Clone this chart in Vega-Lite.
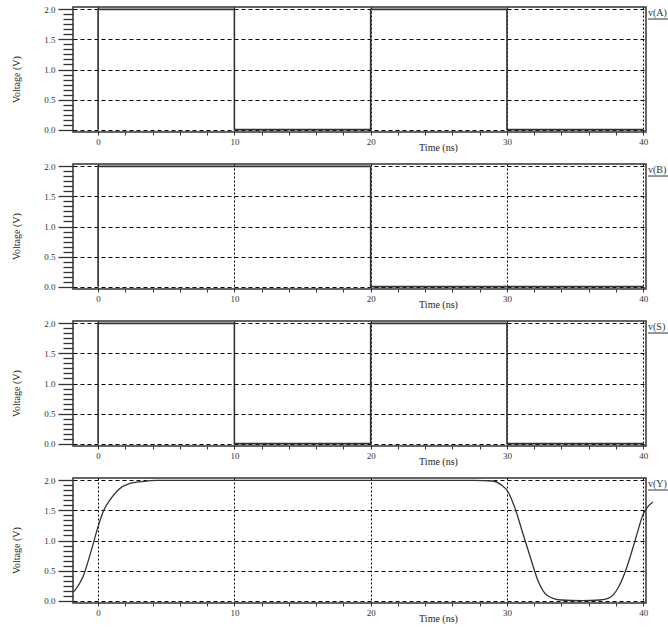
{
  "$schema": "https://vega.github.io/schema/vega-lite/v6.json",
  "background": "white",
  "padding": {"left": 10, "top": 4, "right": 0, "bottom": 0},
  "datasets": {
    "digital": [
      {"signal": "A", "i": 1, "t": 0, "v": 0},
      {"signal": "A", "i": 2, "t": 0, "v": 2},
      {"signal": "A", "i": 3, "t": 10, "v": 2},
      {"signal": "A", "i": 4, "t": 10, "v": 0},
      {"signal": "A", "i": 5, "t": 20, "v": 0},
      {"signal": "A", "i": 6, "t": 20, "v": 2},
      {"signal": "A", "i": 7, "t": 30, "v": 2},
      {"signal": "A", "i": 8, "t": 30, "v": 0},
      {"signal": "A", "i": 9, "t": 40, "v": 0},
      {"signal": "B", "i": 1, "t": 0, "v": 0},
      {"signal": "B", "i": 2, "t": 0, "v": 2},
      {"signal": "B", "i": 3, "t": 20, "v": 2},
      {"signal": "B", "i": 4, "t": 20, "v": 0},
      {"signal": "B", "i": 5, "t": 40, "v": 0},
      {"signal": "S", "i": 1, "t": 0, "v": 0},
      {"signal": "S", "i": 2, "t": 0, "v": 2},
      {"signal": "S", "i": 3, "t": 10, "v": 2},
      {"signal": "S", "i": 4, "t": 10, "v": 0},
      {"signal": "S", "i": 5, "t": 20, "v": 0},
      {"signal": "S", "i": 6, "t": 20, "v": 2},
      {"signal": "S", "i": 7, "t": 30, "v": 2},
      {"signal": "S", "i": 8, "t": 30, "v": 0},
      {"signal": "S", "i": 9, "t": 40, "v": 0}
    ],
    "output": [
      {"i": 1, "t": -1.76, "v": 0.15},
      {"i": 2, "t": -1.1, "v": 0.4},
      {"i": 3, "t": -0.49, "v": 0.84},
      {"i": 4, "t": 0, "v": 1.23},
      {"i": 5, "t": 0.37, "v": 1.48},
      {"i": 6, "t": 0.86, "v": 1.67},
      {"i": 7, "t": 1.47, "v": 1.84},
      {"i": 8, "t": 2.33, "v": 1.95},
      {"i": 9, "t": 3.2, "v": 1.98},
      {"i": 10, "t": 4.3, "v": 2.0},
      {"i": 11, "t": 10, "v": 2.0},
      {"i": 12, "t": 20, "v": 2.0},
      {"i": 13, "t": 27.6, "v": 2.0},
      {"i": 14, "t": 28.95, "v": 1.99},
      {"i": 15, "t": 29.56, "v": 1.93},
      {"i": 16, "t": 30.05, "v": 1.82},
      {"i": 17, "t": 30.54, "v": 1.57},
      {"i": 18, "t": 31.15, "v": 1.13},
      {"i": 19, "t": 31.77, "v": 0.68},
      {"i": 20, "t": 32.26, "v": 0.34},
      {"i": 21, "t": 32.94, "v": 0.09},
      {"i": 22, "t": 33.98, "v": 0.01},
      {"i": 23, "t": 35.5, "v": 0.0},
      {"i": 24, "t": 36.8, "v": 0.01},
      {"i": 25, "t": 37.47, "v": 0.04},
      {"i": 26, "t": 38.2, "v": 0.23},
      {"i": 27, "t": 38.8, "v": 0.56},
      {"i": 28, "t": 39.4, "v": 1.0},
      {"i": 29, "t": 40.0, "v": 1.44},
      {"i": 30, "t": 40.7, "v": 1.64}
    ]
  },
  "config": {
    "view": {"stroke": "#333", "strokeWidth": 1.5},
    "text": {"font": "Liberation Serif", "fontSize": 10, "color": "#333", "align": "left", "baseline": "middle"},
    "rule": {"color": "#333", "strokeWidth": 1}
  },
  "vconcat": [
    {
      "width": 573, "height": 125,
      "layer": [
        {
          "data": {"name": "digital"},
          "transform": [{"filter": "datum.signal === 'A'"}],
          "mark": {"type": "line", "stroke": "#333", "strokeWidth": 1.6},
          "encoding": {
            "x": {"field": "t", "type": "quantitative", "scale": {"domain": [-1.84, 40.2], "nice": false, "zero": false},
              "axis": {"title": "Time (ns)", "tickCount": 50, "values": [0, 2, 4, 6, 8, 10, 12, 14, 16, 18, 20, 22, 24, 26, 28, 30, 32, 34, 36, 38, 40], "labelExpr": "datum.value % 10 === 0 ? datum.label : ''", "format": "d", "tickSize": 3, "tickColor": "#333", "domain": false, "grid": true, "gridColor": "#000", "gridDash": [2, 2], "gridWidth": 1, "gridOpacity": {"condition": {"test": "datum.value % 10 === 0", "value": 1}, "value": 0}, "labelFont": "Liberation Serif", "labelFontSize": 9, "labelColor": "#333", "labelPadding": 2, "labelOverlap": false, "labelFlush": false, "titleFont": "Liberation Serif", "titleFontSize": 10, "titleFontWeight": "normal", "titleColor": "#222", "titleX": 365, "titleY": 10, "titleAlign": "center", "titleBaseline": "top"}},
            "y": {"field": "v", "type": "quantitative", "scale": {"domain": [-0.04, 2.04], "nice": false, "zero": false},
              "axis": {"title": "Voltage (V)", "tickCount": 50, "values": [0, 0.0833, 0.1667, 0.25, 0.3333, 0.4167, 0.5, 0.5833, 0.6667, 0.75, 0.8333, 0.9167, 1, 1.0833, 1.1667, 1.25, 1.3333, 1.4167, 1.5, 1.5833, 1.6667, 1.75, 1.8333, 1.9167, 2], "labelExpr": "abs(datum.value * 2 - round(datum.value * 2)) < 0.01 ? format(datum.value, '.1f') : ''", "tickSize": {"condition": {"test": "abs(datum.value * 2 - round(datum.value * 2)) < 0.01", "value": 15}, "value": 10}, "tickColor": "#333", "tickWidth": 1.3, "domain": false, "grid": true, "gridColor": "#000", "gridDash": [4, 3], "gridWidth": 1, "gridOpacity": {"condition": {"test": "abs(datum.value * 2 - round(datum.value * 2)) < 0.01", "value": 1}, "value": 0}, "labelFont": "Liberation Serif", "labelFontSize": 9, "labelColor": "#333", "labelPadding": 3, "labelOverlap": false, "labelFlush": false, "titleFont": "Liberation Serif", "titleFontSize": 10, "titleFontWeight": "normal", "titleColor": "#222", "titleX": -57, "titleY": 72, "titleAngle": 270, "titleAlign": "center", "titleBaseline": "middle"}},
            "order": {"field": "i"}
          }
        },
        {
          "data": {"values": [{"label": "v(A)"}]},
          "mark": {"type": "text"},
          "encoding": {"x": {"datum": 40.35}, "y": {"datum": 1.94}, "text": {"field": "label"}}
        },
        {
          "data": {"values": [{"label": "v(A)"}]},
          "mark": {"type": "rule"},
          "encoding": {"x": {"datum": 40.35}, "x2": {"datum": 41.9}, "y": {"datum": 1.84}}
        }
      ]
    },
    {
      "width": 573, "height": 125,
      "layer": [
        {
          "data": {"name": "digital"},
          "transform": [{"filter": "datum.signal === 'B'"}],
          "mark": {"type": "line", "stroke": "#333", "strokeWidth": 1.6},
          "encoding": {
            "x": {"field": "t", "type": "quantitative", "scale": {"domain": [-1.84, 40.2], "nice": false, "zero": false},
              "axis": {"title": "Time (ns)", "tickCount": 50, "values": [0, 2, 4, 6, 8, 10, 12, 14, 16, 18, 20, 22, 24, 26, 28, 30, 32, 34, 36, 38, 40], "labelExpr": "datum.value % 10 === 0 ? datum.label : ''", "format": "d", "tickSize": 3, "tickColor": "#333", "domain": false, "grid": true, "gridColor": "#000", "gridDash": [2, 2], "gridWidth": 1, "gridOpacity": {"condition": {"test": "datum.value % 10 === 0", "value": 1}, "value": 0}, "labelFont": "Liberation Serif", "labelFontSize": 9, "labelColor": "#333", "labelPadding": 2, "labelOverlap": false, "labelFlush": false, "titleFont": "Liberation Serif", "titleFontSize": 10, "titleFontWeight": "normal", "titleColor": "#222", "titleX": 365, "titleY": 10, "titleAlign": "center", "titleBaseline": "top"}},
            "y": {"field": "v", "type": "quantitative", "scale": {"domain": [-0.04, 2.04], "nice": false, "zero": false},
              "axis": {"title": "Voltage (V)", "tickCount": 50, "values": [0, 0.0833, 0.1667, 0.25, 0.3333, 0.4167, 0.5, 0.5833, 0.6667, 0.75, 0.8333, 0.9167, 1, 1.0833, 1.1667, 1.25, 1.3333, 1.4167, 1.5, 1.5833, 1.6667, 1.75, 1.8333, 1.9167, 2], "labelExpr": "abs(datum.value * 2 - round(datum.value * 2)) < 0.01 ? format(datum.value, '.1f') : ''", "tickSize": {"condition": {"test": "abs(datum.value * 2 - round(datum.value * 2)) < 0.01", "value": 15}, "value": 10}, "tickColor": "#333", "tickWidth": 1.3, "domain": false, "grid": true, "gridColor": "#000", "gridDash": [4, 3], "gridWidth": 1, "gridOpacity": {"condition": {"test": "abs(datum.value * 2 - round(datum.value * 2)) < 0.01", "value": 1}, "value": 0}, "labelFont": "Liberation Serif", "labelFontSize": 9, "labelColor": "#333", "labelPadding": 3, "labelOverlap": false, "labelFlush": false, "titleFont": "Liberation Serif", "titleFontSize": 10, "titleFontWeight": "normal", "titleColor": "#222", "titleX": -57, "titleY": 72, "titleAngle": 270, "titleAlign": "center", "titleBaseline": "middle"}},
            "order": {"field": "i"}
          }
        },
        {
          "data": {"values": [{"label": "v(B)"}]},
          "mark": {"type": "text"},
          "encoding": {"x": {"datum": 40.35}, "y": {"datum": 1.94}, "text": {"field": "label"}}
        },
        {
          "data": {"values": [{"label": "v(B)"}]},
          "mark": {"type": "rule"},
          "encoding": {"x": {"datum": 40.35}, "x2": {"datum": 41.9}, "y": {"datum": 1.84}}
        }
      ]
    },
    {
      "width": 573, "height": 125,
      "layer": [
        {
          "data": {"name": "digital"},
          "transform": [{"filter": "datum.signal === 'S'"}],
          "mark": {"type": "line", "stroke": "#333", "strokeWidth": 1.6},
          "encoding": {
            "x": {"field": "t", "type": "quantitative", "scale": {"domain": [-1.84, 40.2], "nice": false, "zero": false},
              "axis": {"title": "Time (ns)", "tickCount": 50, "values": [0, 2, 4, 6, 8, 10, 12, 14, 16, 18, 20, 22, 24, 26, 28, 30, 32, 34, 36, 38, 40], "labelExpr": "datum.value % 10 === 0 ? datum.label : ''", "format": "d", "tickSize": 3, "tickColor": "#333", "domain": false, "grid": true, "gridColor": "#000", "gridDash": [2, 2], "gridWidth": 1, "gridOpacity": {"condition": {"test": "datum.value % 10 === 0", "value": 1}, "value": 0}, "labelFont": "Liberation Serif", "labelFontSize": 9, "labelColor": "#333", "labelPadding": 2, "labelOverlap": false, "labelFlush": false, "titleFont": "Liberation Serif", "titleFontSize": 10, "titleFontWeight": "normal", "titleColor": "#222", "titleX": 365, "titleY": 10, "titleAlign": "center", "titleBaseline": "top"}},
            "y": {"field": "v", "type": "quantitative", "scale": {"domain": [-0.04, 2.04], "nice": false, "zero": false},
              "axis": {"title": "Voltage (V)", "tickCount": 50, "values": [0, 0.0833, 0.1667, 0.25, 0.3333, 0.4167, 0.5, 0.5833, 0.6667, 0.75, 0.8333, 0.9167, 1, 1.0833, 1.1667, 1.25, 1.3333, 1.4167, 1.5, 1.5833, 1.6667, 1.75, 1.8333, 1.9167, 2], "labelExpr": "abs(datum.value * 2 - round(datum.value * 2)) < 0.01 ? format(datum.value, '.1f') : ''", "tickSize": {"condition": {"test": "abs(datum.value * 2 - round(datum.value * 2)) < 0.01", "value": 15}, "value": 10}, "tickColor": "#333", "tickWidth": 1.3, "domain": false, "grid": true, "gridColor": "#000", "gridDash": [4, 3], "gridWidth": 1, "gridOpacity": {"condition": {"test": "abs(datum.value * 2 - round(datum.value * 2)) < 0.01", "value": 1}, "value": 0}, "labelFont": "Liberation Serif", "labelFontSize": 9, "labelColor": "#333", "labelPadding": 3, "labelOverlap": false, "labelFlush": false, "titleFont": "Liberation Serif", "titleFontSize": 10, "titleFontWeight": "normal", "titleColor": "#222", "titleX": -57, "titleY": 72, "titleAngle": 270, "titleAlign": "center", "titleBaseline": "middle"}},
            "order": {"field": "i"}
          }
        },
        {
          "data": {"values": [{"label": "v(S)"}]},
          "mark": {"type": "text"},
          "encoding": {"x": {"datum": 40.35}, "y": {"datum": 1.94}, "text": {"field": "label"}}
        },
        {
          "data": {"values": [{"label": "v(S)"}]},
          "mark": {"type": "rule"},
          "encoding": {"x": {"datum": 40.35}, "x2": {"datum": 41.9}, "y": {"datum": 1.84}}
        }
      ]
    },
    {
      "width": 573, "height": 125,
      "layer": [
        {
          "data": {"name": "output"},
          "mark": {"type": "line", "stroke": "#333", "strokeWidth": 1.3, "interpolate": "monotone"},
          "encoding": {
            "x": {"field": "t", "type": "quantitative", "scale": {"domain": [-1.84, 40.2], "nice": false, "zero": false},
              "axis": {"title": "Time (ns)", "tickCount": 50, "values": [0, 2, 4, 6, 8, 10, 12, 14, 16, 18, 20, 22, 24, 26, 28, 30, 32, 34, 36, 38, 40], "labelExpr": "datum.value % 10 === 0 ? datum.label : ''", "format": "d", "tickSize": 3, "tickColor": "#333", "domain": false, "grid": true, "gridColor": "#000", "gridDash": [2, 2], "gridWidth": 1, "gridOpacity": {"condition": {"test": "datum.value % 10 === 0", "value": 1}, "value": 0}, "labelFont": "Liberation Serif", "labelFontSize": 9, "labelColor": "#333", "labelPadding": 2, "labelOverlap": false, "labelFlush": false, "titleFont": "Liberation Serif", "titleFontSize": 10, "titleFontWeight": "normal", "titleColor": "#222", "titleX": 365, "titleY": 10, "titleAlign": "center", "titleBaseline": "top"}},
            "y": {"field": "v", "type": "quantitative", "scale": {"domain": [-0.04, 2.04], "nice": false, "zero": false},
              "axis": {"title": "Voltage (V)", "tickCount": 50, "values": [0, 0.0833, 0.1667, 0.25, 0.3333, 0.4167, 0.5, 0.5833, 0.6667, 0.75, 0.8333, 0.9167, 1, 1.0833, 1.1667, 1.25, 1.3333, 1.4167, 1.5, 1.5833, 1.6667, 1.75, 1.8333, 1.9167, 2], "labelExpr": "abs(datum.value * 2 - round(datum.value * 2)) < 0.01 ? format(datum.value, '.1f') : ''", "tickSize": {"condition": {"test": "abs(datum.value * 2 - round(datum.value * 2)) < 0.01", "value": 15}, "value": 10}, "tickColor": "#333", "tickWidth": 1.3, "domain": false, "grid": true, "gridColor": "#000", "gridDash": [4, 3], "gridWidth": 1, "gridOpacity": {"condition": {"test": "abs(datum.value * 2 - round(datum.value * 2)) < 0.01", "value": 1}, "value": 0}, "labelFont": "Liberation Serif", "labelFontSize": 9, "labelColor": "#333", "labelPadding": 3, "labelOverlap": false, "labelFlush": false, "titleFont": "Liberation Serif", "titleFontSize": 10, "titleFontWeight": "normal", "titleColor": "#222", "titleX": -57, "titleY": 72, "titleAngle": 270, "titleAlign": "center", "titleBaseline": "middle"}},
            "order": {"field": "i"}
          }
        },
        {
          "data": {"values": [{"label": "v(Y)"}]},
          "mark": {"type": "text"},
          "encoding": {"x": {"datum": 40.35}, "y": {"datum": 1.94}, "text": {"field": "label"}}
        },
        {
          "data": {"values": [{"label": "v(Y)"}]},
          "mark": {"type": "rule"},
          "encoding": {"x": {"datum": 40.35}, "x2": {"datum": 41.9}, "y": {"datum": 1.84}}
        }
      ]
    }
  ],
  "spacing": 32,
  "bounds": "flush"
}
